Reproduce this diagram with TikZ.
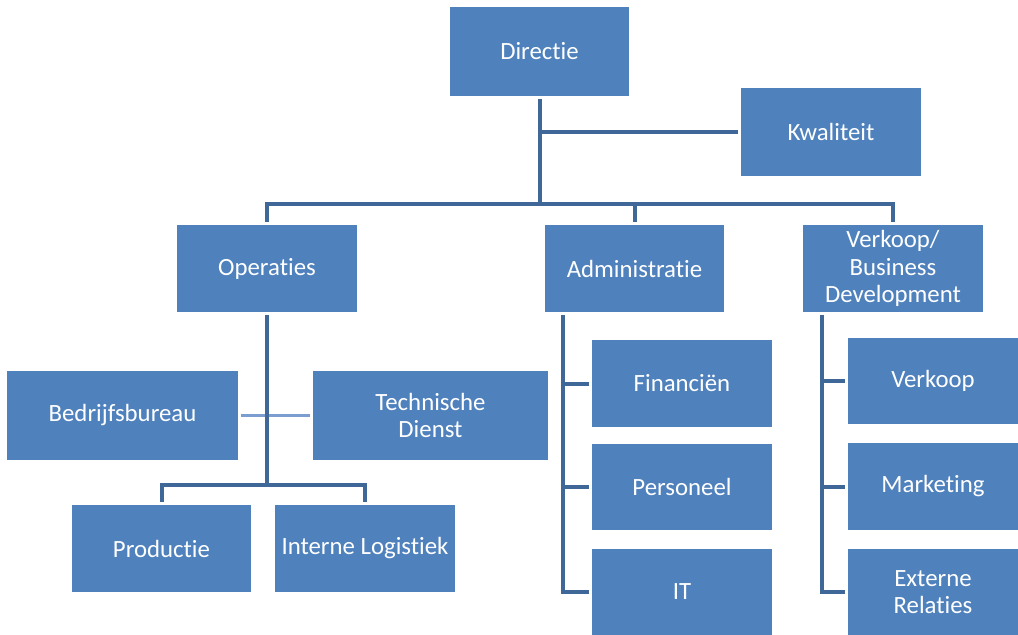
\documentclass[tikz,border=0pt]{standalone}
\usepackage{fontspec}
\setmainfont{Carlito}[Ligatures=NoCommon]
\definecolor{boxblue}{HTML}{4F81BD}
\definecolor{linkblue}{HTML}{3F6899}
\definecolor{crossblue}{HTML}{7B9DD0}
\tikzset{
  orgnode/.style={fill=boxblue, draw=none, text=white, inner sep=0pt, outer sep=2.2pt,
    align=center, font=\fontsize{18.6pt}{20.6pt}\selectfont},
  link/.style={draw=linkblue, line width=3pt, line join=miter},
  crosslink/.style={draw=white, line width=0.6pt, double=crossblue, double distance=2pt}
}
\newcommand\orgbox[6]{%
  \node[orgnode, minimum width={(#4-#2)*0.75pt}, minimum height={(#5-#3)*0.75pt}]
    (#1) at ({(#2+#4)/2},{(#3+#5)/2}) {#6};}
\begin{document}
\begin{tikzpicture}[x=0.75pt, y=-0.75pt]
\useasboundingbox (0,0) rectangle (1018,635);
\orgbox{dir}{450}{7}{629}{96}{Directie}
\orgbox{kwa}{741}{88}{921}{176}{Kwaliteit}
\orgbox{ops}{177}{225}{357}{312}{Operaties}
\orgbox{adm}{545}{225}{724}{312}{Administratie}
\orgbox{vbd}{803}{225}{983}{312}{Verkoop/\\Business\\Development}
\orgbox{bb}{7}{371}{238}{460}{Bedrijfsbureau}
\orgbox{td}{313}{371}{548}{460}{Technische\\Dienst}
\orgbox{prod}{72}{505}{251}{592}{Productie}
\orgbox{il}{275}{505}{455}{592}{Interne Logistiek}
\orgbox{fin}{592}{340}{772}{427}{Financiën}
\orgbox{pers}{592}{444}{772}{530}{Personeel}
\orgbox{it}{592}{549}{772}{635}{IT}
\orgbox{verk}{848}{338}{1018}{424}{Verkoop}
\orgbox{mark}{848}{443}{1018}{530}{Marketing}
\orgbox{ext}{848}{549}{1018}{635}{Externe\\Relaties}

% top level
\coordinate (bus) at (539.5,204);
\draw[link] (dir.south) -- (bus);
\draw[link] (dir.south |- kwa.west) -- (kwa.west);
\draw[link] (ops.north) |- (bus) -| (vbd.north);
\draw[link] (adm.north |- bus) -- (adm.north);

% Operaties
\draw[crosslink] (bb.east) -- (td.west);
\coordinate (opsbus) at (267,485);
\draw[link] (ops.south) -- (opsbus);
\draw[link] (prod.north) |- (opsbus) -| (il.north);

% Administratie
\coordinate (admx) at (563,0);
\draw[link] (admx |- adm.south) |- (it.west);
\draw[link] (admx |- fin.west) -- (fin.west);
\draw[link] (admx |- pers.west) -- (pers.west);

% Verkoop / BD
\coordinate (vbdx) at (822,0);
\draw[link] (vbdx |- vbd.south) |- (ext.west);
\draw[link] (vbdx |- verk.west) -- (verk.west);
\draw[link] (vbdx |- mark.west) -- (mark.west);
\end{tikzpicture}
\end{document}
